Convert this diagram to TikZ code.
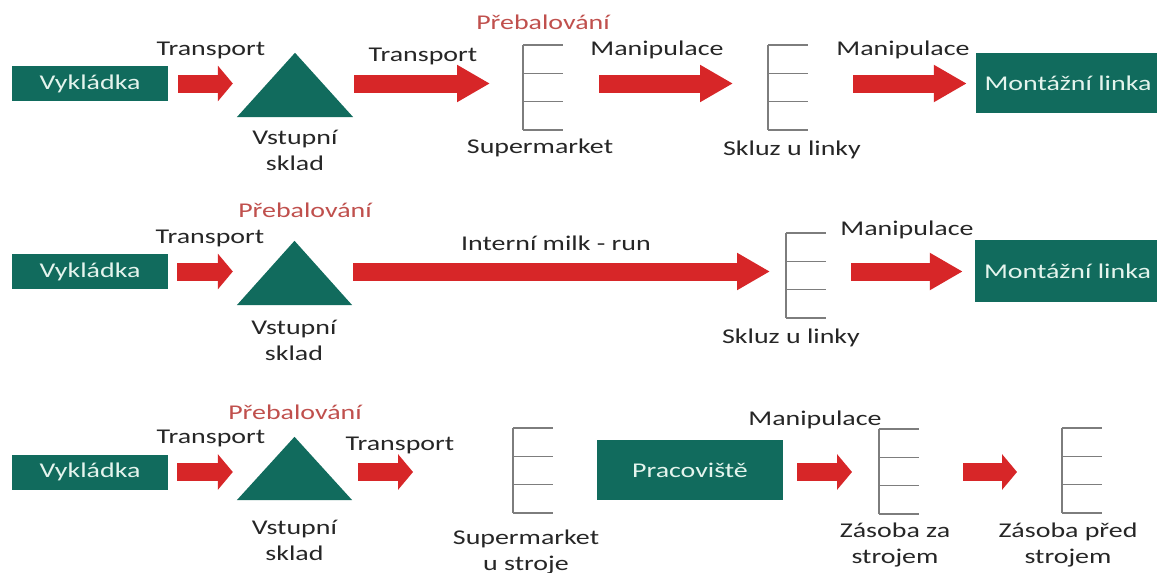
\documentclass[tikz,border=0pt]{standalone}
\usepackage{fontspec}
\setmainfont{Carlito}[FakeStretch=1.33]
\usepackage{xcolor}
\usepackage{tikz}
\usetikzlibrary{calc}
\usetikzlibrary{positioning}
\usetikzlibrary{arrows.meta}

\definecolor{skladgreen}{RGB}{17,107,93}
\definecolor{flowred}{RGB}{215,38,40}
\definecolor{repackred}{RGB}{192,80,77}
\definecolor{labelgray}{RGB}{38,38,38}
\definecolor{boxtext}{RGB}{228,244,237}
\definecolor{shelfgray}{RGB}{125,125,125}

\tikzset{
	box/.style={fill=skladgreen, text=boxtext, minimum width=156, minimum height=35, inner sep=0},
	tri/.style={minimum width=116, minimum height=64, inner sep=0},
	lbl/.style={text=labelgray, inner sep=0, align=center},
	repack/.style={text=repackred, inner sep=0},
	flow/.style={draw=flowred, line width=18, -{Triangle[length=33, width=35]}},
	shortflow/.style={draw=flowred, line width=18, -{Triangle[length=15, width=35]}},
	shelfline/.style={draw=shelfgray, line width=1.3},
	shelf/.pic={
		\node[minimum width=40, minimum height=85, inner sep=0, anchor=north west] (-b) at (0,0) {};
		\draw[shelfline] (0,0) -- (0,85);
		\foreach \k in {0,...,3} \draw[shelfline] (0,\k*85/3) -- (40,\k*85/3);
	},
}

\begin{document}
\begin{tikzpicture}[x=1pt, y=-1pt, font=\fontsize{21}{26}\selectfont]
	
	\useasboundingbox (0,0) rectangle (1157,573);
	\clip (0,0) rectangle (1157,573);
	\fill[white] (0,0) rectangle (1157,573);
	
	% first line
	\node[box] (vyk1) at (90, 83.5) {Vykládka};
	\node[tri] (sklad1) at (295, 85) {};
	\pic (sm1) at (523, 45) {shelf};
	\pic (sk1) at (768, 45) {shelf};
	\node[box, minimum width=184, minimum height=60] (mon1) at (1068, 83) {Montážní linka};
	
	\node[lbl] at (211, 50) {Transport};
	\node[lbl] at (295, 150) {Vstupní\\sklad};
	\node[lbl] at (423, 56) {Transport};
	\node[repack] at (543, 22) {Přebalování};
	\node[lbl] at (657, 50) {Manipulace};
	\node[lbl] at (540, 148) {Supermarket};
	\node[lbl] at (792, 150) {Skluz u linky};
	\node[lbl] at (903, 50) {Manipulace};
	
	\draw[shortflow, shorten <=10, shorten >=4] (vyk1.east) -- (vyk1.east -| sklad1.west);
	\draw[flow, shorten <=1, shorten >=33] (vyk1.east -| sklad1.east) -- (vyk1.east -| sm1-b.west);
	\draw[flow, shorten <=36, shorten >=35] (vyk1.east -| sm1-b.east) -- (vyk1.east -| sk1-b.west);
	\draw[flow, shorten <=45, shorten >=9] (vyk1.east -| sk1-b.east) -- (vyk1.east -| mon1.west);
	
	% second line
	\node[box] (vyk2) at (90, 271.5) {Vykládka};
	\node[tri, minimum width=115] (sklad2) at (294.5, 273) {};
	\pic (sk2) at (786, 233) {shelf};
	\node[box, minimum width=185, minimum height=62] (mon2) at (1067.5, 271) {Montážní linka};
	
	\node[repack] at (305, 210) {Přebalování};
	\node[lbl] at (210, 238) {Transport};
	\node[lbl] at (294, 340) {Vstupní\\sklad};
	\node[lbl] at (556, 243) {Interní milk - run};
	\node[lbl] at (791, 338) {Skluz u linky};
	\node[lbl] at (907, 230) {Manipulace};
	
	\draw[shortflow, shorten <=9, shorten >=4] (vyk2.east) -- (vyk2.east -| sklad2.west);
	\draw[flow, shorten <=1, shorten >=16] (vyk2.east -| sklad2.east) -- (vyk2.east -| sk2-b.west);
	\draw[flow, shorten <=25, shorten >=12] (vyk2.east -| sk2-b.east) -- (vyk2.east -| mon2.west);
	
	% third line
	\node[box] (vyk3) at (90, 472) {Vykládka};
	\node[tri, minimum width=115, minimum height=63] (sklad3) at (294.5, 468.5) {};
	\pic (sms) at (513, 428) {shelf};
	\node[box, minimum width=186, minimum height=60] (prac) at (690, 470) {Pracoviště};
	\pic (z1) at (879, 429) {shelf};
	\pic (z2) at (1062, 428) {shelf};
	
	\node[repack] at (295, 412) {Přebalování};
	\node[lbl] at (211, 438) {Transport};
	\node[lbl] at (294.5, 540) {Vstupní\\sklad};
	\node[lbl] at (400, 445) {Transport};
	\node[lbl] at (526, 552) {Supermarket\\u stroje};
	\node[lbl] at (815, 420) {Manipulace};
	\node[lbl] at (895, 545) {Zásoba za\\strojem};
	\node[lbl] at (1068, 545) {Zásoba před\\strojem};
	
	\draw[shortflow, shorten <=9, shorten >=4] (vyk3.east) -- (vyk3.east -| sklad3.west);
	\draw[shortflow, shorten <=6, shorten >=100] (vyk3.east -| sklad3.east) -- (vyk3.east -| sms-b.west);
	\draw[shortflow, shorten <=14, shorten >=27] (vyk3.east -| prac.east) -- (vyk3.east -| z1-b.west);
	\draw[shortflow, shorten <=44, shorten >=45] (vyk3.east -| z1-b.east) -- (vyk3.east -| z2-b.west);
	
	% warehouses
	\foreach \t in {sklad1,sklad2,sklad3}
		\fill[skladgreen] (\t.south west) -- (\t.south east) -- (\t.north) -- cycle;
	
\end{tikzpicture}
\end{document}
